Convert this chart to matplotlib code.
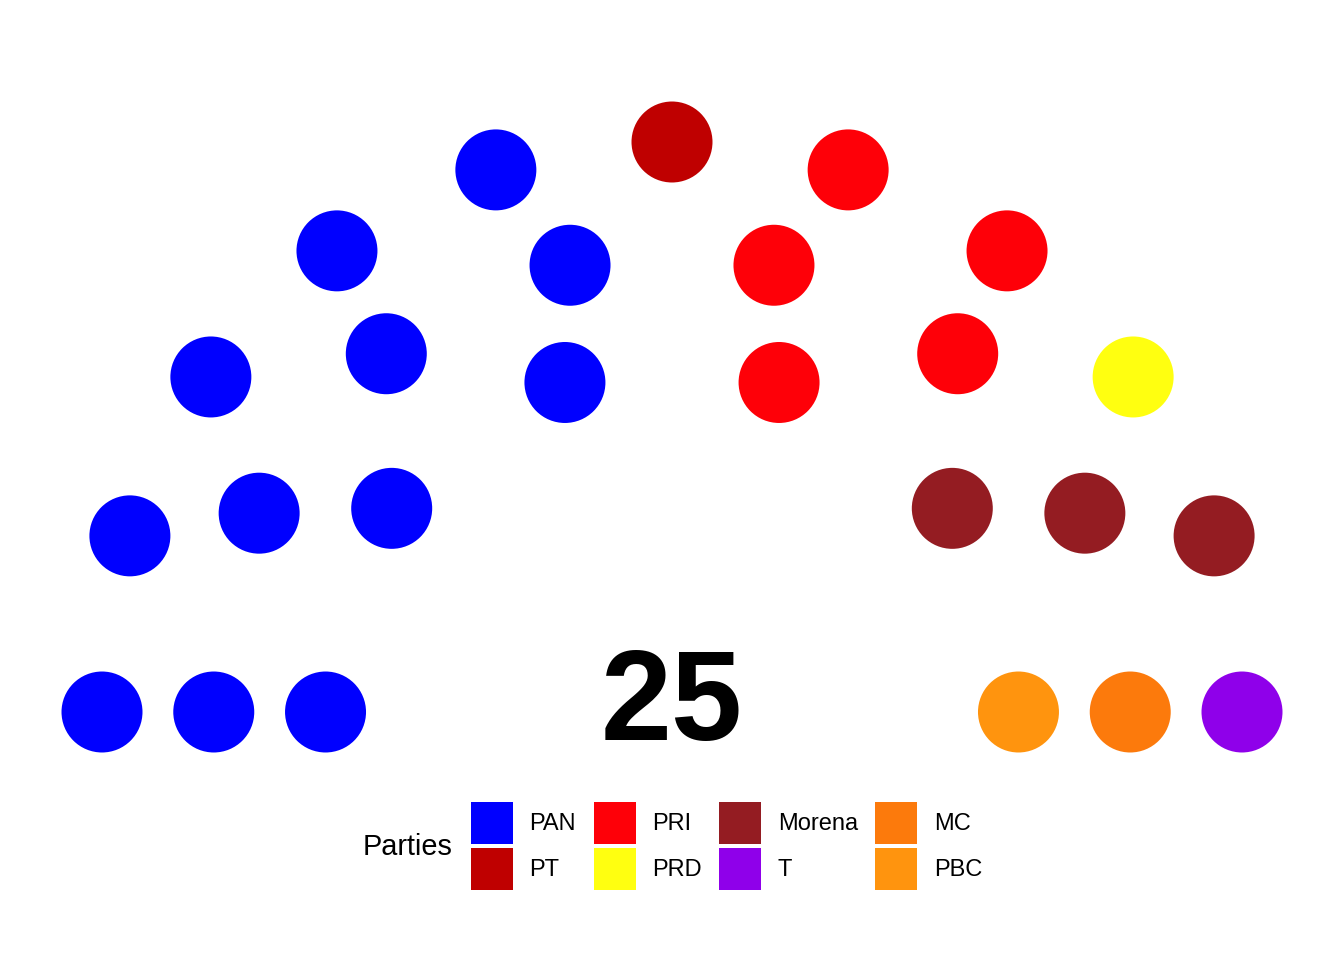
import matplotlib
matplotlib.use("Agg")
import matplotlib.pyplot as plt
from matplotlib.patches import Patch
import numpy as np

plt.rcParams['font.family'] = ['Liberation Sans', 'DejaVu Sans']

# Party data (seat order follows the hemicycle, left to right)
parties = ['PAN', 'PT', 'PRI', 'PRD', 'Morena', 'T', 'MC', 'PBC']
seats = [12, 1, 5, 1, 3, 1, 1, 1]
colors = ['#0000FF', '#BF0000', '#FE0008', '#FFFF10', '#941C22', '#8F00EA', '#FC7A0C', '#FF940E']
total_label = '25'


# Semicircle layout, same idea as ggparliament
def semicircle(nrows, total_seats, radii):
    rows = []
    left = total_seats
    for i in range(nrows):
        n = int(np.floor(left * radii[i] / radii[i:].sum() + 0.5))
        theta = np.linspace(0, np.pi, n)
        left -= n
        for t in theta:
            rows.append((radii[i] * np.cos(t), radii[i] * np.sin(t), i, t))
    # order seats: from left (theta = pi) to right, outer row first
    rows.sort(key=lambda r: (-round(r[3], 9), -r[2]))
    return np.array(rows)


radii = np.array([3.1, 4.1, 5.1])
layout = semicircle(3, sum(seats), radii)
seat_colors = np.repeat(colors, seats)

fig = plt.figure(figsize=(13.44, 9.6), dpi=100)
ax = fig.add_axes([0, 0, 1, 1])

# pixel scale: outer ring radius 570 px, centre at (672, 712) from top
px = 570 / radii[-1]
ax.set_xlim(-672 / px, 672 / px)
ax.set_ylim(-248 / px, 712 / px)
ax.axis('off')

ax.scatter(layout[:, 0], layout[:, 1], s=3400, c=seat_colors, edgecolors='none')

ax.text(0, -28 / px, total_label, ha='center', va='baseline',
        fontsize=92, fontweight='bold', color='black')

# Legend: square keys of ~42 px
fs = 17
key_pt = 42 * 72 / 100
hh = (key_pt / fs - 0.245) / 0.65
handles = [Patch(facecolor=c, edgecolor='none', label=p) for p, c in zip(parties, colors)]
leg = fig.legend(handles=handles, ncol=4, frameon=False,
                 loc='upper left', bbox_to_anchor=(471 / 1344, 1 - 802 / 960),
                 fontsize=fs, handlelength=key_pt / fs, handleheight=hh,
                 handletextpad=0.7, columnspacing=0.74, labelspacing=0.17,
                 borderpad=0, borderaxespad=0)
fig.text(363 / 1344, 1 - 847 / 960, 'Parties', ha='left', va='center', fontsize=20.8)

fig.savefig('out.png', dpi=100, facecolor='white')
